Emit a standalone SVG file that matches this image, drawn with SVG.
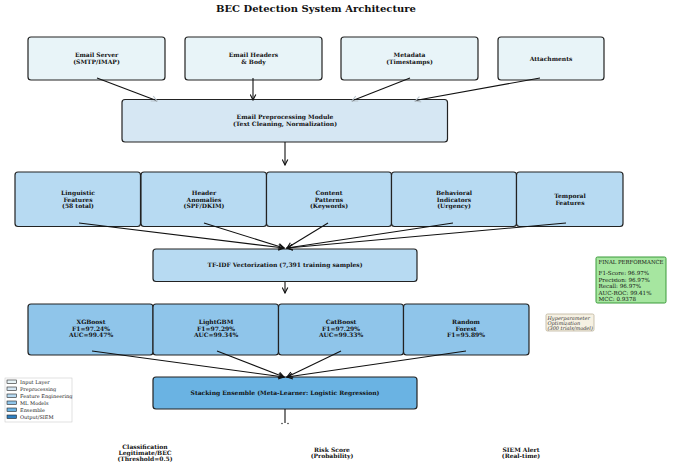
<svg xmlns="http://www.w3.org/2000/svg" width="683" height="466" viewBox="0 0 683 466">
<defs>
<style>
text{font-family:"DejaVu Serif","Liberation Serif",serif;}
.t{font-size:10px;font-weight:bold;text-anchor:middle;fill:#111;}
.n{font-size:6px;font-weight:bold;text-anchor:middle;fill:#111;}
.box{stroke:#222;stroke-width:1.2;}
.in{fill:#e8f4f8;}
.pre{fill:#d6e7f3;}
.fe{fill:#b7daf2;}
.ml{fill:#8fc5ea;}
.en{fill:#6ab3e3;}
.out{fill:#2f7fc0;}
.c{stroke:#111;stroke-width:1.1;fill:none;}
.lg{font-size:5px;fill:#222;}
.pf{font-size:5.6px;fill:#111;}
.hp{font-size:5px;font-style:italic;fill:#333;}
</style>
<marker id="ah" viewBox="0 0 10 10" refX="9" refY="5" markerWidth="7" markerHeight="7" orient="auto" markerUnits="userSpaceOnUse"><path d="M1,1 L9,5 L1,9" fill="none" stroke="#111" stroke-width="1.6"/></marker>
<marker id="ahg" viewBox="0 0 10 10" refX="9" refY="5" markerWidth="7" markerHeight="7" orient="auto" markerUnits="userSpaceOnUse"><path d="M1,1 L9,5 L1,9" fill="none" stroke="#b8c4cc" stroke-width="1.6"/></marker>
</defs>
<rect width="683" height="466" fill="#fff"/>
<text class="t" x="316" y="12">BEC Detection System Architecture</text>

<g id="email-server"><rect class="box in" x="28" y="37" width="137" height="43" rx="3"/><text class="n" x="96.5" y="57">Email Server</text><text class="n" x="96.5" y="64">(SMTP/IMAP)</text></g>
<g id="email-headers"><rect class="box in" x="185" y="37" width="137" height="43" rx="3"/><text class="n" x="253.5" y="57">Email Headers</text><text class="n" x="253.5" y="64">&amp; Body</text></g>
<g id="metadata"><rect class="box in" x="341" y="37" width="137" height="43" rx="3"/><text class="n" x="409.5" y="57">Metadata</text><text class="n" x="409.5" y="64">(Timestamps)</text></g>
<g id="attachments"><rect class="box in" x="498" y="37" width="106" height="43" rx="3"/><text class="n" x="551" y="61">Attachments</text></g>

<g id="preprocessing"><rect class="box pre" x="122" y="99.5" width="325.5" height="42.5" rx="3"/><text class="n" x="285" y="119">Email Preprocessing Module</text><text class="n" x="285" y="126">(Text Cleaning, Normalization)</text></g>

<g id="linguistic"><rect class="box fe" x="15" y="172" width="125.5" height="54.5" rx="3"/><text class="n" x="78" y="195">Linguistic</text><text class="n" x="78" y="201.5">Features</text><text class="n" x="78" y="208">(58 total)</text></g>
<g id="header-anomalies"><rect class="box fe" x="141" y="172" width="125.5" height="54.5" rx="3"/><text class="n" x="204" y="195">Header</text><text class="n" x="204" y="201.5">Anomalies</text><text class="n" x="204" y="208">(SPF/DKIM)</text></g>
<g id="content-patterns"><rect class="box fe" x="266.5" y="172" width="125" height="54.5" rx="3"/><text class="n" x="329" y="195">Content</text><text class="n" x="329" y="201.5">Patterns</text><text class="n" x="329" y="208">(Keywords)</text></g>
<g id="behavioral"><rect class="box fe" x="391.5" y="172" width="125" height="54.5" rx="3"/><text class="n" x="454" y="195">Behavioral</text><text class="n" x="454" y="201.5">Indicators</text><text class="n" x="454" y="208">(Urgency)</text></g>
<g id="temporal"><rect class="box fe" x="516.5" y="172" width="106.5" height="54.5" rx="3"/><text class="n" x="570" y="198">Temporal</text><text class="n" x="570" y="204.5">Features</text></g>

<g id="tfidf"><rect class="box fe" x="153" y="249" width="264" height="32.5" rx="3"/><text class="n" x="285" y="267">TF-IDF Vectorization (7,391 training samples)</text></g>

<g id="xgboost"><rect class="box ml" x="28" y="304" width="125" height="51" rx="3"/><text class="n" x="91" y="324">XGBoost</text><text class="n" x="91" y="330.5">F1=97.24%</text><text class="n" x="91" y="337">AUC=99.47%</text></g>
<g id="lightgbm"><rect class="box ml" x="153" y="304" width="125.5" height="51" rx="3"/><text class="n" x="216" y="324">LightGBM</text><text class="n" x="216" y="330.5">F1=97.29%</text><text class="n" x="216" y="337">AUC=99.34%</text></g>
<g id="catboost"><rect class="box ml" x="278.5" y="304" width="125" height="51" rx="3"/><text class="n" x="341" y="324">CatBoost</text><text class="n" x="341" y="330.5">F1=97.29%</text><text class="n" x="341" y="337">AUC=99.33%</text></g>
<g id="random-forest"><rect class="box ml" x="403.5" y="304" width="125.5" height="51" rx="3"/><text class="n" x="466" y="324">Random</text><text class="n" x="466" y="330.5">Forest</text><text class="n" x="466" y="337">F1=95.89%</text></g>

<g id="ensemble"><rect class="box en" x="153" y="377" width="264" height="32" rx="3"/><text class="n" x="285" y="395">Stacking Ensemble (Meta-Learner: Logistic Regression)</text></g>

<g id="out-classification"><text class="n" x="145" y="449">Classification</text><text class="n" x="145" y="455">Legitimate/BEC</text><text class="n" x="145" y="461">(Threshold=0.5)</text></g>
<g id="out-risk"><text class="n" x="332" y="452">Risk Score</text><text class="n" x="332" y="458">(Probability)</text></g>
<g id="out-siem"><text class="n" x="521" y="452">SIEM Alert</text><text class="n" x="521" y="458">(Real-time)</text></g>

<g id="final-performance"><rect x="596" y="257" width="70" height="46" rx="1.5" fill="#a6e6a0" stroke="#3a9a3a" stroke-width="1"/>
<text class="pf" x="598.5" y="263.5" textLength="65" lengthAdjust="spacingAndGlyphs">FINAL PERFORMANCE</text>
<text class="pf" x="598.5" y="275">F1-Score: 96.97%</text>
<text class="pf" x="598.5" y="281.5">Precision: 96.97%</text>
<text class="pf" x="598.5" y="288">Recall: 96.97%</text>
<text class="pf" x="598.5" y="294.5">AUC-ROC: 99.41%</text>
<text class="pf" x="598.5" y="301">MCC: 0.9378</text></g>

<g id="hyperparameter"><rect x="546" y="314" width="48" height="17" rx="1.5" fill="#f6f1e3" stroke="#b5ab90" stroke-width="0.7"/>
<text class="hp" x="547.5" y="319.5">Hyperparameter</text>
<text class="hp" x="547.5" y="324.5">Optimization</text>
<text class="hp" x="547.5" y="329.5">(300 trials/model)</text></g>

<g id="legend"><rect x="5" y="378" width="67" height="44" fill="#fff" stroke="#ccc" stroke-width="0.6"/>
<rect x="7" y="380" width="9.5" height="3.5" class="in" stroke="#222" stroke-width="0.6"/><text class="lg" x="20" y="383.5">Input Layer</text>
<rect x="7" y="387" width="9.5" height="3.5" class="pre" stroke="#222" stroke-width="0.6"/><text class="lg" x="20" y="390.5">Preprocessing</text>
<rect x="7" y="394" width="9.5" height="3.5" class="fe" stroke="#222" stroke-width="0.6"/><text class="lg" x="20" y="397.5">Feature Engineering</text>
<rect x="7" y="401" width="9.5" height="3.5" class="ml" stroke="#222" stroke-width="0.6"/><text class="lg" x="20" y="404.5">ML Models</text>
<rect x="7" y="408" width="9.5" height="3.5" class="en" stroke="#222" stroke-width="0.6"/><text class="lg" x="20" y="411.5">Ensemble</text>
<rect x="7" y="415" width="9.5" height="3.5" class="out" stroke="#222" stroke-width="0.6"/><text class="lg" x="20" y="418.5">Output/SIEM</text></g>

<g id="connectors">
<path class="c" d="M97,78 L155,100"/>
<path class="c" d="M155,100 L157,101" marker-end="url(#ahg)"/>
<path class="c" d="M253,78 L253,100" marker-end="url(#ah)"/>
<path class="c" d="M410,78 L354,100"/>
<path class="c" d="M354,100 L352,101" marker-end="url(#ahg)"/>
<path class="c" d="M540,78 L418,100"/>
<path class="c" d="M418,100 L415,101" marker-end="url(#ahg)"/>
<path class="c" d="M285,142 L285,165" marker-end="url(#ah)"/>
<path class="c" d="M79,223 L284,248" marker-end="url(#ah)"/>
<path class="c" d="M204,223 L284,248" marker-end="url(#ah)"/>
<path class="c" d="M328,223 L287,248" marker-end="url(#ah)"/>
<path class="c" d="M453,223 L287,248" marker-end="url(#ah)"/>
<path class="c" d="M566,223 L287,248" marker-end="url(#ah)"/>
<path class="c" d="M285,282 L285,293" marker-end="url(#ah)"/>
<path class="c" d="M92,351 L284,377" marker-end="url(#ah)"/>
<path class="c" d="M217,351 L284,377" marker-end="url(#ah)"/>
<path class="c" d="M341,351 L287,377" marker-end="url(#ah)"/>
<path class="c" d="M466,351 L287,377" marker-end="url(#ah)"/>
<path class="c" d="M285,409 L285,423" stroke-width="1.6"/>
<circle cx="282" cy="423.5" r="0.7" fill="#111"/>
<circle cx="288" cy="423.5" r="0.7" fill="#111"/>
</g>
</svg>
